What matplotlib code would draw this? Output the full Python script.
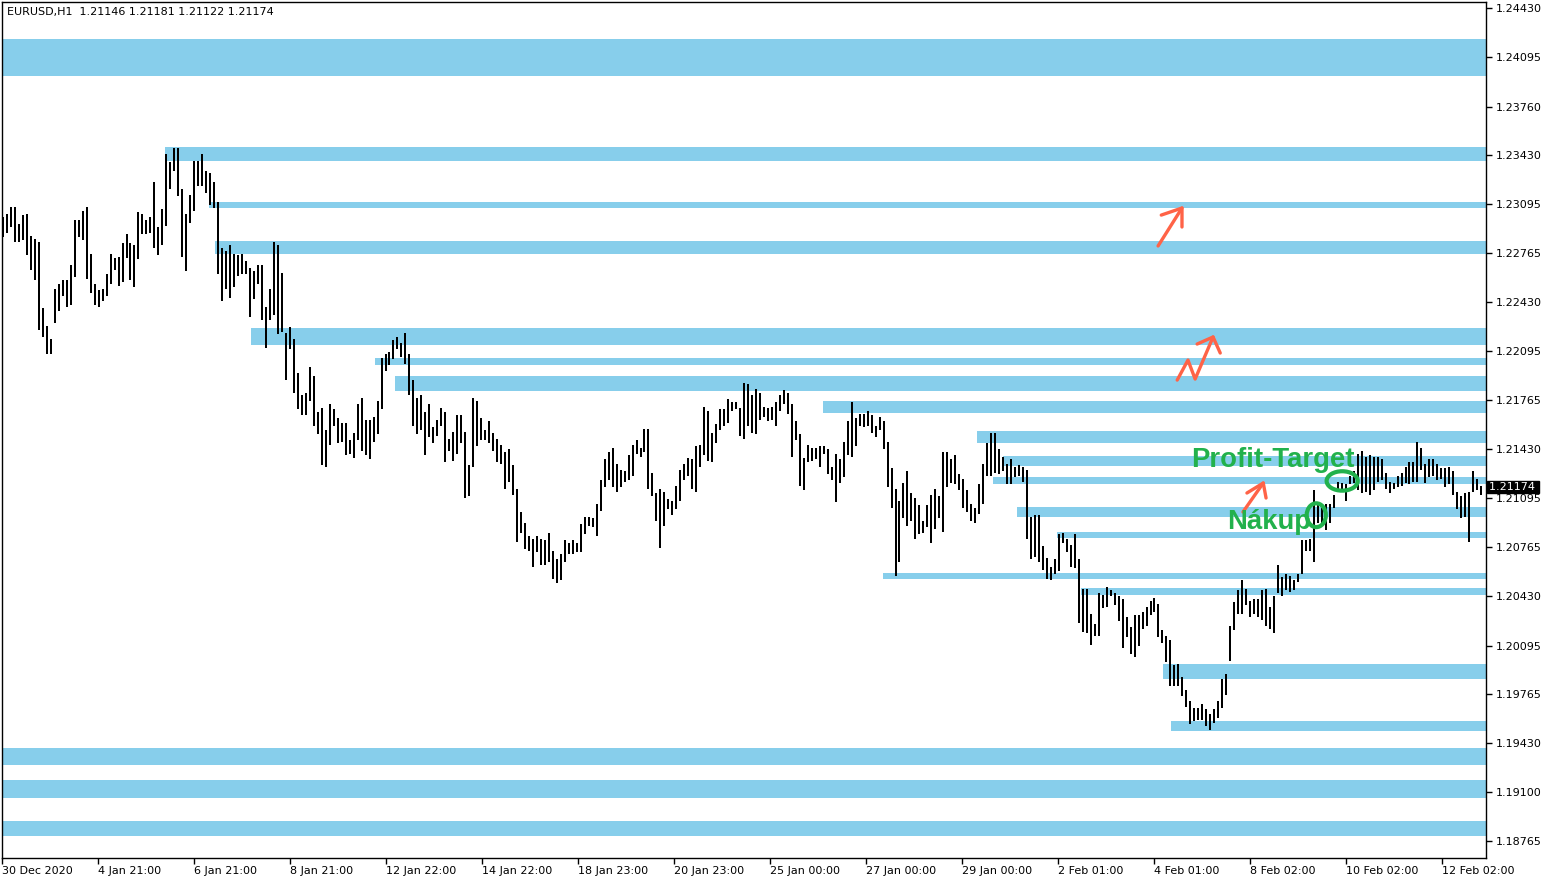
import numpy as np
import matplotlib
matplotlib.use('Agg')
import matplotlib.pyplot as plt
import matplotlib.transforms as mtransforms
from matplotlib.patches import Ellipse

# EURUSD H1, one bar drawn per two hours (high / low)
highs = [
    1.2301, 1.2303, 1.2308, 1.2308, 1.2296, 1.2302, 1.2303, 1.2288, 1.2286, 1.2284,
    1.2239, 1.2227, 1.2218, 1.2252, 1.2255, 1.2258, 1.2258, 1.2268, 1.2299, 1.2299,
    1.2305, 1.2308, 1.2276, 1.2255, 1.2251, 1.2252, 1.2262, 1.2276, 1.2273, 1.2274,
    1.2283, 1.2289, 1.2283, 1.2282, 1.2304, 1.2303, 1.2299, 1.2301, 1.2325, 1.2294,
    1.2306, 1.2344, 1.2338, 1.2348, 1.2348, 1.2320, 1.2303, 1.2316, 1.2339, 1.2339,
    1.2344, 1.2332, 1.2331, 1.2325, 1.2311, 1.2280, 1.2278, 1.2282, 1.2276, 1.2275,
    1.2276, 1.2271, 1.2266, 1.2264, 1.2268, 1.2268, 1.2240, 1.2252, 1.2284, 1.2282,
    1.2263, 1.2222, 1.2226, 1.2218, 1.2195, 1.2180, 1.2181, 1.2199, 1.2193, 1.2168,
    1.2171, 1.2156, 1.2174, 1.2170, 1.2164, 1.2161, 1.2161, 1.2149, 1.2154, 1.2174,
    1.2178, 1.2163, 1.2163, 1.2165, 1.2176, 1.2205, 1.2208, 1.2209, 1.2217, 1.2219,
    1.2215, 1.2222, 1.2208, 1.2190, 1.2178, 1.2180, 1.2168, 1.2174, 1.2158, 1.2163,
    1.2171, 1.2168, 1.2150, 1.2155, 1.2166, 1.2166, 1.2155, 1.2132, 1.2178, 1.2176,
    1.2164, 1.2156, 1.2162, 1.2154, 1.2150, 1.2146, 1.2141, 1.2143, 1.2132, 1.2116,
    1.2100, 1.2093, 1.2084, 1.2082, 1.2084, 1.2082, 1.2081, 1.2086, 1.2074, 1.2068,
    1.2072, 1.2081, 1.2079, 1.2081, 1.2079, 1.2092, 1.2097, 1.2097, 1.2096, 1.2106,
    1.2122, 1.2136, 1.2141, 1.2144, 1.2133, 1.2129, 1.2128, 1.2139, 1.2146, 1.2149,
    1.2144, 1.2157, 1.2157, 1.2127, 1.2113, 1.2116, 1.2114, 1.2109, 1.2108, 1.2118,
    1.2129, 1.2133, 1.2137, 1.2136, 1.2145, 1.2146, 1.2172, 1.2169, 1.2154, 1.2160,
    1.2170, 1.2170, 1.2177, 1.2175, 1.2175, 1.2171, 1.2188, 1.2187, 1.2180, 1.2184,
    1.2181, 1.2172, 1.2171, 1.2172, 1.2175, 1.2180, 1.2183, 1.2181, 1.2174, 1.2162,
    1.2153, 1.2137, 1.2146, 1.2144, 1.2144, 1.2145, 1.2145, 1.2143, 1.2131, 1.2140,
    1.2136, 1.2148, 1.2162, 1.2175, 1.2164, 1.2167, 1.2167, 1.2169, 1.2166, 1.2159,
    1.2165, 1.2162, 1.2148, 1.2130, 1.2116, 1.2108, 1.2120, 1.2128, 1.2113, 1.2110,
    1.2105, 1.2094, 1.2105, 1.2112, 1.2116, 1.2111, 1.2141, 1.2141, 1.2136, 1.2139,
    1.2126, 1.2123, 1.2115, 1.2106, 1.2103, 1.2119, 1.2133, 1.2147, 1.2154, 1.2154,
    1.2143, 1.2138, 1.2133, 1.2136, 1.2131, 1.2132, 1.2131, 1.2129, 1.2097, 1.2098,
    1.2098, 1.2077, 1.2069, 1.2063, 1.2068, 1.2085, 1.2086, 1.2082, 1.2078, 1.2085,
    1.2068, 1.2048, 1.2048, 1.2031, 1.2024, 1.2045, 1.2044, 1.2049, 1.2047, 1.2045,
    1.2043, 1.2041, 1.2029, 1.2022, 1.2030, 1.2030, 1.2032, 1.2036, 1.2040, 1.2042,
    1.2038, 1.2020, 1.2016, 1.2013, 1.1996, 1.1997, 1.1988, 1.1979, 1.1972, 1.1967,
    1.1967, 1.1970, 1.1966, 1.1963, 1.1966, 1.1972, 1.1987, 1.1990, 1.2023, 1.2039,
    1.2047, 1.2054, 1.2048, 1.2040, 1.2041, 1.2041, 1.2047, 1.2048, 1.2036, 1.2043,
    1.2064, 1.2056, 1.2058, 1.2057, 1.2054, 1.2058, 1.2081, 1.2081, 1.2082, 1.2115,
    1.2106, 1.2103, 1.2106, 1.2106, 1.2112, 1.2121, 1.2120, 1.2119, 1.2125, 1.2128,
    1.2140, 1.2142, 1.2138, 1.2139, 1.2138, 1.2138, 1.2136, 1.2127, 1.2121, 1.2120,
    1.2125, 1.2127, 1.2131, 1.2134, 1.2134, 1.2148, 1.2144, 1.2133, 1.2136, 1.2136,
    1.2133, 1.2130, 1.2130, 1.2131, 1.2128, 1.2114, 1.2111, 1.2113, 1.2114, 1.2128,
    1.2123, 1.2118,
]
lows = [
    1.2287, 1.2290, 1.2294, 1.2284, 1.2284, 1.2285, 1.2275, 1.2265, 1.2258, 1.2224,
    1.2219, 1.2208, 1.2208, 1.2229, 1.2237, 1.2247, 1.2240, 1.2241, 1.2260, 1.2287,
    1.2285, 1.2259, 1.2249, 1.2241, 1.2240, 1.2244, 1.2247, 1.2255, 1.2265, 1.2254,
    1.2257, 1.2273, 1.2258, 1.2253, 1.2272, 1.2289, 1.2289, 1.2290, 1.2280, 1.2275,
    1.2282, 1.2295, 1.2320, 1.2332, 1.2315, 1.2274, 1.2264, 1.2297, 1.2305, 1.2322,
    1.2322, 1.2317, 1.2309, 1.2307, 1.2262, 1.2244, 1.2252, 1.2246, 1.2253, 1.2261,
    1.2262, 1.2262, 1.2233, 1.2245, 1.2255, 1.2231, 1.2212, 1.2231, 1.2234, 1.2221,
    1.2223, 1.2190, 1.2211, 1.2181, 1.2170, 1.2166, 1.2166, 1.2176, 1.2159, 1.2153,
    1.2132, 1.2131, 1.2146, 1.2159, 1.2147, 1.2148, 1.2139, 1.2140, 1.2137, 1.2149,
    1.2142, 1.2139, 1.2136, 1.2148, 1.2153, 1.2170, 1.2196, 1.2200, 1.2204, 1.2211,
    1.2206, 1.2201, 1.2180, 1.2159, 1.2153, 1.2156, 1.2139, 1.2151, 1.2147, 1.2152,
    1.2159, 1.2134, 1.2142, 1.2135, 1.2140, 1.2147, 1.2110, 1.2111, 1.2131, 1.2145,
    1.2149, 1.2149, 1.2147, 1.2142, 1.2134, 1.2133, 1.2116, 1.2121, 1.2112, 1.2080,
    1.2086, 1.2075, 1.2074, 1.2063, 1.2073, 1.2064, 1.2064, 1.2066, 1.2055, 1.2052,
    1.2054, 1.2066, 1.2072, 1.2072, 1.2073, 1.2073, 1.2085, 1.2091, 1.2090, 1.2084,
    1.2101, 1.2117, 1.2122, 1.2117, 1.2114, 1.2117, 1.2121, 1.2122, 1.2125, 1.2140,
    1.2138, 1.2141, 1.2116, 1.2111, 1.2094, 1.2076, 1.2091, 1.2102, 1.2098, 1.2102,
    1.2108, 1.2122, 1.2125, 1.2116, 1.2114, 1.2131, 1.2139, 1.2135, 1.2134, 1.2147,
    1.2156, 1.2159, 1.2161, 1.2169, 1.2170, 1.2152, 1.2150, 1.2159, 1.2154, 1.2153,
    1.2163, 1.2165, 1.2162, 1.2163, 1.2159, 1.2169, 1.2174, 1.2167, 1.2138, 1.2149,
    1.2118, 1.2115, 1.2134, 1.2135, 1.2136, 1.2131, 1.2140, 1.2126, 1.2122, 1.2107,
    1.2120, 1.2124, 1.2139, 1.2138, 1.2145, 1.2159, 1.2158, 1.2159, 1.2154, 1.2151,
    1.2156, 1.2143, 1.2117, 1.2103, 1.2057, 1.2066, 1.2096, 1.2091, 1.2094, 1.2082,
    1.2085, 1.2086, 1.2090, 1.2079, 1.2089, 1.2096, 1.2087, 1.2117, 1.2120, 1.2119,
    1.2115, 1.2103, 1.2100, 1.2094, 1.2093, 1.2099, 1.2106, 1.2125, 1.2125, 1.2127,
    1.2126, 1.2128, 1.2119, 1.2119, 1.2124, 1.2125, 1.2121, 1.2082, 1.2068, 1.2070,
    1.2066, 1.2061, 1.2055, 1.2054, 1.2058, 1.2060, 1.2079, 1.2073, 1.2063, 1.2062,
    1.2025, 1.2019, 1.2018, 1.2010, 1.2016, 1.2016, 1.2035, 1.2036, 1.2043, 1.2037,
    1.2026, 1.2008, 1.2015, 1.2004, 1.2002, 1.2009, 1.2021, 1.2023, 1.2030, 1.2032,
    1.2015, 1.2011, 1.1998, 1.1982, 1.1982, 1.1982, 1.1975, 1.1968, 1.1956, 1.1958,
    1.1959, 1.1959, 1.1955, 1.1952, 1.1957, 1.1960, 1.1967, 1.1976, 1.1999, 1.2020,
    1.2031, 1.2031, 1.2037, 1.2029, 1.2031, 1.2029, 1.2027, 1.2023, 1.2021, 1.2018,
    1.2045, 1.2043, 1.2047, 1.2046, 1.2047, 1.2053, 1.2058, 1.2074, 1.2074, 1.2066,
    1.2093, 1.2091, 1.2088, 1.2093, 1.2103, 1.2115, 1.2114, 1.2108, 1.2119, 1.2120,
    1.2115, 1.2113, 1.2114, 1.2112, 1.2115, 1.2121, 1.2122, 1.2116, 1.2113, 1.2116,
    1.2117, 1.2118, 1.2120, 1.2119, 1.2121, 1.2121, 1.2129, 1.2120, 1.2124, 1.2125,
    1.2122, 1.2123, 1.2117, 1.2119, 1.2112, 1.2102, 1.2096, 1.2097, 1.2080, 1.2114,
    1.2115, 1.2112,
]

date_labels = ['30 Dec 2020', '4 Jan 21:00', '6 Jan 21:00', '8 Jan 21:00',
               '12 Jan 22:00', '14 Jan 22:00', '18 Jan 23:00', '20 Jan 23:00',
               '25 Jan 00:00', '27 Jan 00:00', '29 Jan 00:00', '2 Feb 01:00',
               '4 Feb 01:00', '8 Feb 02:00', '10 Feb 02:00', '12 Feb 02:00']
price_ticks = [1.24430, 1.24095, 1.23760, 1.23430, 1.23095, 1.22765, 1.22430,
               1.22095, 1.21765, 1.21430, 1.21095, 1.20765, 1.20430, 1.20095,
               1.19765, 1.19430, 1.19100, 1.18765]

# support / resistance zones: top, bottom, first bar (-1 = whole chart)
zone_top = [1.24219, 1.23485, 1.23111, 1.22846, 1.22254, 1.22050, 1.21928,
            1.21758, 1.21554, 1.21384, 1.21241, 1.21037, 1.20867, 1.20588,
            1.20486, 1.19969, 1.19582, 1.19398, 1.19180, 1.18902]
zone_bottom = [1.23968, 1.23390, 1.23070, 1.22757, 1.22138, 1.22002, 1.21826,
               1.21676, 1.21472, 1.21316, 1.21194, 1.20969, 1.20826, 1.20547,
               1.20438, 1.19867, 1.19514, 1.19282, 1.19058, 1.18800]
zone_start = [-1, 40.7, 51.7, 53.2, 62.2, 93.4, 98.4, 205.8, 244.5, 251.0,
              248.5, 254.5, 264.6, 220.9, 270.6, 291.2, 293.2, -1, -1, -1]

last_price = 1.21174
header = 'EURUSD,H1  1.21146 1.21181 1.21122 1.21174'

# hand drawn arrows (bar index, price)
arrow1 = [(289.9, 1.22812), (295.9, 1.23070)]
arrow1_head = [(290.7, 1.23022), (295.9, 1.23070), (295.9, 1.22941)]
arrow2 = [(294.7, 1.21900), (297.4, 1.22036), (299.2, 1.21907), (303.7, 1.22193)]
arrow2_head = [(299.7, 1.22145), (303.7, 1.22193), (305.5, 1.22084)]
arrow3 = [(311.2, 1.21003), (316.3, 1.21200)]
arrow3_head = [(312.2, 1.21132), (316.3, 1.21200), (317.0, 1.21098)]

fig = plt.figure(figsize=(15.5, 8.84), dpi=100)
ax = fig.add_axes([2 / 1550, 26 / 884, 1484 / 1550, 856 / 884])

n = len(highs)
x = np.arange(n)
xmax = 372.2
ax.set_xlim(-0.25, xmax)
ax.set_ylim(1.1865, 1.24471)

sky = '#87ceeb'
for top, bot, start in zip(zone_top, zone_bottom, zone_start):
    ax.fill_between([start, xmax + 5], bot, top, color=sky, lw=0, zorder=1)

ax.vlines(x, lows, highs, colors='black', lw=1.44, antialiased=False, zorder=3)

red = '#ff6347'
for pts in [arrow1, arrow1_head, arrow2, arrow2_head, arrow3, arrow3_head]:
    px, py = zip(*pts)
    ax.plot(px, py, color=red, lw=2.4, solid_capstyle='round',
            solid_joinstyle='round', zorder=5)

green = '#22b14c'
ax.text(298.2, 1.21356, 'Profit-Target', color=green, fontsize=19.8,
        fontweight='bold', family='Liberation Sans', va='center', ha='left', zorder=6)
ax.text(307.2, 1.20935, 'Nákup', color=green, fontsize=19.8,
        fontweight='bold', family='Liberation Sans', va='center', ha='left', zorder=6)
ax.add_patch(Ellipse((329.6, 1.20981), 4.8, 0.00162, fill=False,
                     ec=green, lw=3.0, zorder=6))
ax.add_patch(Ellipse((336.1, 1.21214), 7.8, 0.00132, fill=False,
                     ec=green, lw=3.0, zorder=6))

# axes styling like the MT4 window
for s in ['left', 'right', 'bottom', 'top']:
    ax.spines[s].set_linewidth(1.0)
    ax.spines[s].set_color('black')
ax.yaxis.tick_right()
ax.set_yticks(price_ticks)
ax.set_yticklabels(['%.5f' % p for p in price_ticks])
ax.tick_params(axis='y', direction='out', length=4, width=1, pad=3,
               labelsize=8, colors='black')
tick_pos = np.arange(len(date_labels)) * 24.1 - 0.25
ax.set_xticks(tick_pos)
ax.set_xticklabels(date_labels, ha='left')
ax.tick_params(axis='x', direction='out', length=4, width=1, pad=2,
               labelsize=8, colors='black')

# current price tag
trans = mtransforms.blended_transform_factory(ax.transAxes, ax.transData)
ax.text(1.0017, last_price, '1.21174 ', transform=trans, color='white',
        fontsize=8, ha='left', va='center', zorder=7, clip_on=False,
        bbox=dict(boxstyle='square,pad=0.12', fc='black', ec='black'))

fig.text(7 / 1550, 1 - 12 / 884, header, fontsize=8, color='black',
         ha='left', va='center')

fig.savefig('out.png', dpi=100)
